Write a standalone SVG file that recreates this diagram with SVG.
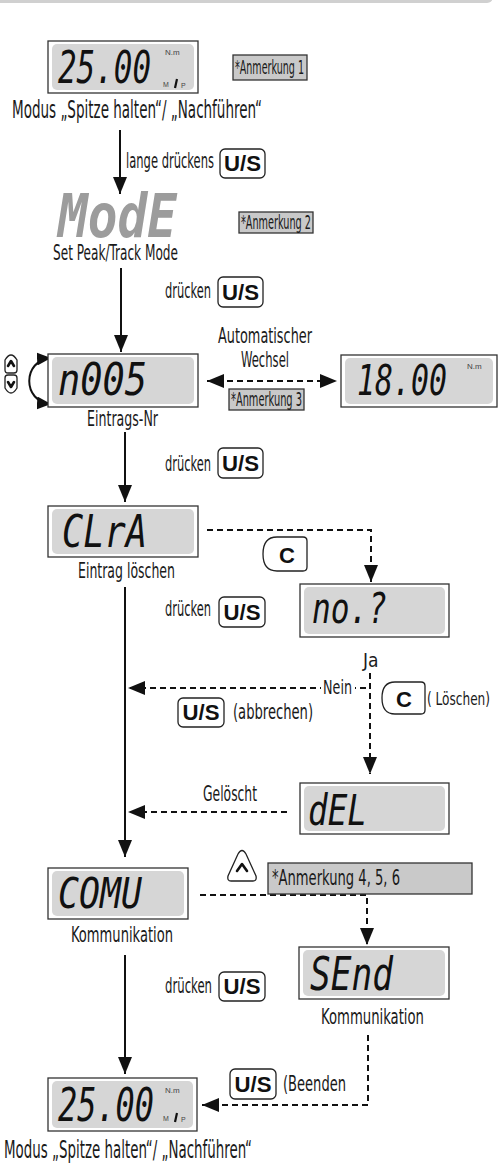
<svg xmlns="http://www.w3.org/2000/svg" width="499" height="1169" viewBox="0 0 499 1169">
<style>
.out{fill:#fff;stroke:#333;stroke-width:1.3}
.inn{fill:#d6d6d6}
.seg{font-family:"DejaVu Sans Mono","Liberation Mono",monospace;font-style:italic;fill:#111}
.cap{font-family:"DejaVu Sans Condensed","DejaVu Sans",sans-serif;font-stretch:condensed;fill:#1a1a1a}
.note{fill:#c9c9c9;stroke:#333;stroke-width:1.3}
.btn{fill:#fff;stroke:#222;stroke-width:1.3}
.bt{font-family:"Liberation Sans",Arial,sans-serif;font-weight:bold;fill:#111;text-anchor:middle}
.sm{font-family:"Liberation Sans",Arial,sans-serif;fill:#444}
.sol{stroke:#111;stroke-width:2;fill:none}
.dash{stroke:#111;stroke-width:2;fill:none;stroke-dasharray:6,4}
.chev{stroke:#111;stroke-width:2.6;fill:none;stroke-linecap:round;stroke-linejoin:round}
.bar{stroke:#111;stroke-width:2.2}
</style>
<defs>
<marker id="ah" markerUnits="userSpaceOnUse" markerWidth="18" markerHeight="14" refX="17" refY="7" orient="auto-start-reverse"><path d="M0,0 L17,7 L0,14 z" fill="#111"/></marker>
<marker id="ahs" markerUnits="userSpaceOnUse" markerWidth="15" markerHeight="13" refX="14" refY="6.5" orient="auto-start-reverse"><path d="M0,0 L14,6.5 L0,13 z" fill="#111"/></marker>
</defs>
<rect x="-6" y="-20" width="499" height="23" rx="6" fill="#d0d0d0"/>

<g id="connectors">
<line class="sol" x1="120" y1="130" x2="120" y2="194" marker-end="url(#ah)"/>
<line class="sol" x1="121" y1="268" x2="121" y2="352" marker-end="url(#ah)"/>
<line class="dash" x1="207" y1="381" x2="337" y2="381" marker-start="url(#ah)" marker-end="url(#ah)"/>
<line class="sol" x1="125" y1="432" x2="125" y2="502" marker-end="url(#ah)"/>
<path class="dash" d="M207 530 H371 V582" marker-end="url(#ah)"/>
<line class="sol" x1="125" y1="587" x2="125" y2="857" marker-end="url(#ah)"/>
<line class="dash" x1="370" y1="673" x2="370" y2="774" marker-end="url(#ah)"/>
<line class="dash" x1="366" y1="688" x2="128" y2="688" marker-end="url(#ah)"/>
<line class="dash" x1="287" y1="812" x2="128" y2="812" marker-end="url(#ah)"/>
<path class="dash" d="M200 895 H367 V945" marker-end="url(#ah)"/>
<line class="sol" x1="125" y1="955" x2="125" y2="1074" marker-end="url(#ah)"/>
<path class="dash" d="M368 1035 V1105 H202" marker-end="url(#ah)"/>
<path class="sol" d="M51 358 C22 360 22 402 51 404" marker-start="url(#ahs)" marker-end="url(#ahs)"/>
</g>

<g id="d1">
<rect class="out" x="48" y="41" width="150" height="52"/>
<rect class="inn" x="52" y="44" width="142" height="46" rx="5"/>
<text class="seg" transform="translate(58,83) scale(1,1.42)" font-size="31" textLength="93" lengthAdjust="spacingAndGlyphs">25.00</text>
<text class="sm" x="165" y="55" font-size="8">N.m</text>
<text class="sm" x="163" y="87" font-size="7">M</text>
<line class="bar" x1="177" y1="79" x2="175" y2="88"/>
<text class="sm" x="181" y="88" font-size="7">P</text>
<text class="cap" x="12" y="118" font-size="24" textLength="250" lengthAdjust="spacingAndGlyphs">Modus „Spitze halten“/ „Nachführen“</text>
</g>

<g id="note1">
<rect class="note" x="233" y="55" width="74" height="25"/>
<text class="cap" x="235" y="74" font-size="19" textLength="69" lengthAdjust="spacingAndGlyphs">*Anmerkung 1</text>
</g>

<g id="lbl1">
<text class="cap" transform="translate(126,168) scale(1,1.8)" font-size="11.5" textLength="88" lengthAdjust="spacingAndGlyphs">lange drückens</text>
<rect class="btn" x="220" y="149" width="45" height="29" rx="5"/>
<text class="bt" x="242.5" y="171" font-size="22" textLength="37" lengthAdjust="spacingAndGlyphs">U/S</text>
</g>

<g id="mode">
<text class="seg" transform="translate(58,237) scale(1,1.67)" font-size="36" font-weight="bold" style="fill:#9c9c9c" textLength="119" lengthAdjust="spacingAndGlyphs">ModE</text>
<text class="cap" transform="translate(53,260) scale(1,1.5)" font-size="14" textLength="125" lengthAdjust="spacingAndGlyphs">Set Peak/Track Mode</text>
</g>

<g id="note2">
<rect class="note" x="239" y="212" width="74" height="21"/>
<text class="cap" x="241" y="229" font-size="19" textLength="70" lengthAdjust="spacingAndGlyphs">*Anmerkung 2</text>
</g>

<g id="lbl2">
<text class="cap" transform="translate(165,298) scale(1,1.75)" font-size="12" textLength="46" lengthAdjust="spacingAndGlyphs">drücken</text>
<rect class="btn" x="218" y="277" width="45" height="30" rx="5"/>
<text class="bt" x="240.5" y="300" font-size="22" textLength="37" lengthAdjust="spacingAndGlyphs">U/S</text>
</g>

<g id="updown">
<path class="btn" d="M5 370 L5 360 Q11 350 17 360 L17 370 Q17 373 14 373 L8 373 Q5 373 5 370 Z"/>
<polyline class="chev" points="8,366 11,361 14,366"/>
<path class="btn" d="M5 378 Q5 375 8 375 L14 375 Q17 375 17 378 L17 388 Q11 398 5 388 Z"/>
<polyline class="chev" points="8,382 11,387 14,382"/>
</g>

<g id="d2">
<rect class="out" x="48" y="354" width="150" height="53"/>
<rect class="inn" x="52" y="357" width="142" height="47" rx="5"/>
<text class="seg" x="58" y="395" font-size="44" textLength="89" lengthAdjust="spacingAndGlyphs">n005</text>
<text class="cap" x="87" y="426" font-size="21" textLength="71" lengthAdjust="spacingAndGlyphs">Eintrags-Nr</text>
</g>

<g id="auto">
<text class="cap" x="265" y="343" font-size="22" text-anchor="middle" textLength="94" lengthAdjust="spacingAndGlyphs">Automatischer</text>
<text class="cap" x="265" y="367" font-size="22" text-anchor="middle" textLength="48" lengthAdjust="spacingAndGlyphs">Wechsel</text>
</g>

<g id="note3">
<rect class="note" x="229" y="389" width="75" height="21"/>
<text class="cap" x="231" y="406" font-size="19" textLength="71" lengthAdjust="spacingAndGlyphs">*Anmerkung 3</text>
</g>

<g id="d3">
<rect class="out" x="341" y="355" width="156" height="52"/>
<rect class="inn" x="345" y="358" width="148" height="46" rx="5"/>
<text class="seg" transform="translate(357,395) scale(1,1.45)" font-size="30" textLength="90" lengthAdjust="spacingAndGlyphs">18.00</text>
<text class="sm" x="467" y="369" font-size="8">N.m</text>
</g>

<g id="lbl3">
<text class="cap" transform="translate(165,471) scale(1,1.75)" font-size="12" textLength="46" lengthAdjust="spacingAndGlyphs">drücken</text>
<rect class="btn" x="218" y="448" width="45" height="30" rx="5"/>
<text class="bt" x="240.5" y="471" font-size="22" textLength="37" lengthAdjust="spacingAndGlyphs">U/S</text>
</g>

<g id="d4">
<rect class="out" x="48" y="506" width="150" height="51"/>
<rect class="inn" x="52" y="509" width="142" height="45" rx="5"/>
<text class="seg" x="62" y="547" font-size="45" textLength="85" lengthAdjust="spacingAndGlyphs">CLrA</text>
<text class="cap" x="78" y="578" font-size="21" textLength="97" lengthAdjust="spacingAndGlyphs">Eintrag löschen</text>
</g>

<g id="c1">
<path class="btn" d="M277 537 L303 537 Q307 537 307 541 L307 567 Q307 571 303 571 L277 571 Q263 571 263 554 Q263 537 277 537 Z"/>
<text class="bt" x="287" y="563" font-size="22">C</text>
</g>

<g id="lbl4">
<text class="cap" transform="translate(165,616) scale(1,1.75)" font-size="12" textLength="46" lengthAdjust="spacingAndGlyphs">drücken</text>
<rect class="btn" x="219" y="597" width="46" height="30" rx="5"/>
<text class="bt" x="242" y="620" font-size="22" textLength="37" lengthAdjust="spacingAndGlyphs">U/S</text>
</g>

<g id="d5">
<rect class="out" x="300" y="584" width="149" height="53"/>
<rect class="inn" x="304" y="587" width="141" height="47" rx="5"/>
<text class="seg" x="312" y="623" font-size="42" textLength="75" lengthAdjust="spacingAndGlyphs">no.?</text>
</g>

<g id="ja">
<text class="cap" x="363" y="667" font-size="19">Ja</text>
<rect x="321" y="678" width="34" height="18" fill="#fff"/>
<text class="cap" x="323" y="694" font-size="20" textLength="29" lengthAdjust="spacingAndGlyphs">Nein</text>
<path class="btn" d="M395 682 L421 682 Q425 682 425 686 L425 710 Q425 714 421 714 L395 714 Q382 714 382 698 Q382 682 395 682 Z"/>
<text class="bt" x="404" y="707" font-size="22">C</text>
<text class="cap" transform="translate(427,705) scale(1,1.35)" font-size="13" textLength="63" lengthAdjust="spacingAndGlyphs">( Löschen)</text>
</g>

<g id="abbr">
<rect class="btn" x="178" y="698" width="46" height="29" rx="5"/>
<text class="bt" x="201" y="720" font-size="22" textLength="37" lengthAdjust="spacingAndGlyphs">U/S</text>
<text class="cap" transform="translate(233,719) scale(1,1.5)" font-size="14" textLength="80" lengthAdjust="spacingAndGlyphs">(abbrechen)</text>
</g>

<g id="d6">
<rect class="out" x="300" y="783" width="149" height="51"/>
<rect class="inn" x="304" y="786" width="141" height="45" rx="5"/>
<text class="seg" x="308" y="825" font-size="42" textLength="59" lengthAdjust="spacingAndGlyphs">dEL</text>
<text class="cap" x="203" y="801" font-size="21" textLength="54" lengthAdjust="spacingAndGlyphs">Gelöscht</text>
</g>

<g id="d7">
<rect class="out" x="48" y="868" width="140" height="51"/>
<rect class="inn" x="52" y="871" width="132" height="45" rx="5"/>
<text class="seg" x="58" y="908" font-size="43" textLength="84" lengthAdjust="spacingAndGlyphs">COMU</text>
<text class="cap" x="71" y="942" font-size="21" textLength="102" lengthAdjust="spacingAndGlyphs">Kommunikation</text>
</g>

<g id="up">
<path class="btn" d="M231 881 L253 881 Q257 881 256 876 L246 854 Q242 847 238 854 L228 876 Q227 881 231 881 Z"/>
<polyline class="chev" points="237,871 242,864 247,871"/>
</g>

<g id="note4">
<rect class="note" x="268" y="863" width="204" height="31"/>
<text class="cap" x="272" y="885" font-size="21" textLength="128" lengthAdjust="spacingAndGlyphs">*Anmerkung 4, 5, 6</text>
</g>

<g id="d8">
<rect class="out" x="299" y="947" width="150" height="52"/>
<rect class="inn" x="303" y="950" width="142" height="46" rx="5"/>
<text class="seg" x="310" y="990" font-size="46" textLength="83" lengthAdjust="spacingAndGlyphs">SEnd</text>
<text class="cap" x="321" y="1024" font-size="21" textLength="103" lengthAdjust="spacingAndGlyphs">Kommunikation</text>
</g>

<g id="lbl5">
<text class="cap" transform="translate(165,993) scale(1,1.75)" font-size="12" textLength="47" lengthAdjust="spacingAndGlyphs">drücken</text>
<rect class="btn" x="219" y="972" width="46" height="29" rx="5"/>
<text class="bt" x="242" y="994" font-size="22" textLength="37" lengthAdjust="spacingAndGlyphs">U/S</text>
</g>

<g id="beenden">
<rect class="btn" x="230" y="1069" width="46" height="30" rx="5"/>
<text class="bt" x="253" y="1092" font-size="22" textLength="37" lengthAdjust="spacingAndGlyphs">U/S</text>
<text class="cap" transform="translate(283,1091) scale(1,1.5)" font-size="14" textLength="63" lengthAdjust="spacingAndGlyphs">(Beenden</text>
</g>

<g id="d9">
<rect class="out" x="48" y="1078" width="149" height="53"/>
<rect class="inn" x="52" y="1081" width="141" height="47" rx="5"/>
<text class="seg" transform="translate(58,1121) scale(1,1.45)" font-size="32" textLength="96" lengthAdjust="spacingAndGlyphs">25.00</text>
<text class="sm" x="165" y="1093" font-size="8">N.m</text>
<text class="sm" x="163" y="1121" font-size="7">M</text>
<line class="bar" x1="177" y1="1113" x2="175" y2="1122"/>
<text class="sm" x="181" y="1122" font-size="7">P</text>
<text class="cap" x="4" y="1158" font-size="24" textLength="248" lengthAdjust="spacingAndGlyphs">Modus „Spitze halten“/ „Nachführen“</text>
</g>
</svg>
